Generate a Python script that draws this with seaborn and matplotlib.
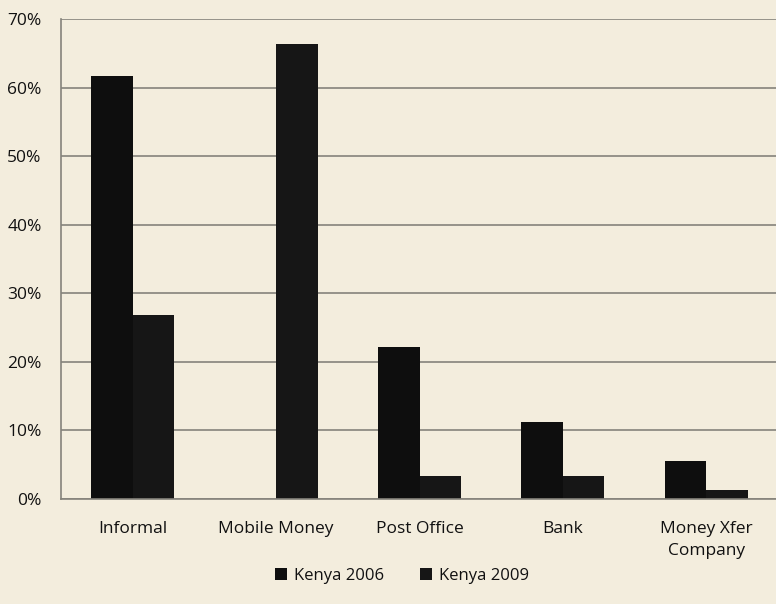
import matplotlib
matplotlib.use("Agg")
import matplotlib.pyplot as plt
import seaborn as sns
import pandas as pd
from matplotlib.ticker import PercentFormatter

# --- DATA ---
categories = ["Informal", "Mobile Money", "Post Office", "Bank", "Money Xfer\nCompany"]
kenya_2006 = [61.7, 0.0, 22.2, 11.3, 5.6]
kenya_2009 = [26.8, 66.3, 3.3, 3.3, 1.3]
series = ["Kenya 2006", "Kenya 2009"]

BG = "#f3eddd"

# --- BUILD TABLE ---
df = pd.DataFrame({
    "category": categories * 2,
    "value": kenya_2006 + kenya_2009,
    "series": [series[0]] * len(categories) + [series[1]] * len(categories),
})

# --- PLOT ---
sns.set_style("white")
plt.rcParams["font.family"] = ["Open Sans", "DejaVu Sans"]

fig = plt.figure(figsize=(7.76, 6.04), dpi=100, facecolor=BG)
ax = fig.add_axes([61 / 776, 105 / 604, 717 / 776, 480 / 604])
ax.set_facecolor(BG)

sns.barplot(data=df, x="category", y="value", hue="series",
            palette=["#0e0e0e", "#161616"], width=0.58, saturation=1,
            edgecolor="none", ax=ax)

ax.set_ylim(0, 70)
ax.set_xlim(-0.5, 4.5)
ax.set_yticks(range(0, 71, 10))
ax.yaxis.set_major_formatter(PercentFormatter(decimals=0))
ax.grid(axis="y", color="#85837b", linewidth=1.2)
ax.set_axisbelow(True)
ax.set_xlabel("")
ax.set_ylabel("")
ax.tick_params(axis="both", length=0, labelsize=12.5, colors="#111111")
ax.tick_params(axis="y", pad=14)
ax.tick_params(axis="x", pad=16)
for lbl in ax.get_xticklabels() + ax.get_yticklabels():
    lbl.set_fontweight("medium")
    lbl.set_linespacing(1.45)

for side in ["top", "right"]:
    ax.spines[side].set_visible(False)
for side in ["left", "bottom"]:
    ax.spines[side].set_color("#85837b")
    ax.spines[side].set_linewidth(1.2)

leg = ax.legend(loc="center", bbox_to_anchor=(341 / 717, -0.16), ncol=2, frameon=False,
                fontsize=12, handlelength=0.7, handleheight=0.7, handletextpad=0.4,
                columnspacing=2.2)
for t in leg.get_texts():
    t.set_fontweight("medium")
    t.set_color("#111111")

fig.savefig("out.png", dpi=100, facecolor=BG)
